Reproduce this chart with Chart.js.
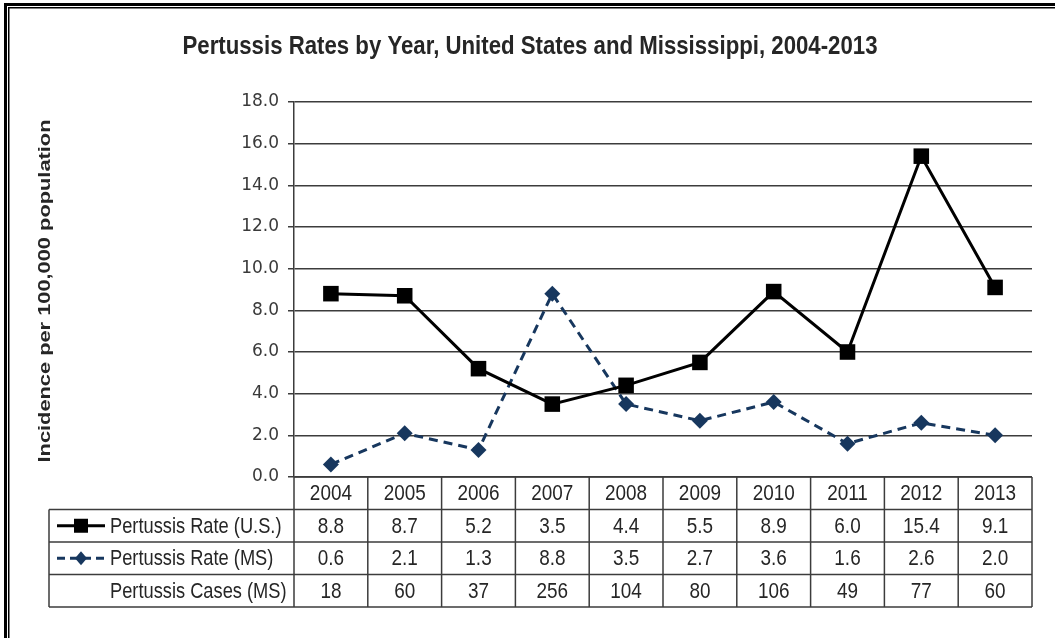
<!DOCTYPE html>
<html>
<head>
<meta charset="utf-8">
<script src="https://cdn.jsdelivr.net/npm/chart.js@4.4.0/dist/chart.umd.min.js"></script>
<style>
  body { margin: 0; background: #fff; }
  canvas { display: block; }
</style>
</head>
<body>
<canvas id="pertussisChart" width="1055" height="638"></canvas>
<script>
// ---------------- data ----------------
const years = ["2004", "2005", "2006", "2007", "2008", "2009", "2010", "2011", "2012", "2013"];
const usRate = [8.8, 8.7, 5.2, 3.5, 4.4, 5.5, 8.9, 6.0, 15.4, 9.1];
const msRate = [0.6, 2.1, 1.3, 8.8, 3.5, 2.7, 3.6, 1.6, 2.6, 2.0];
const msCases = [18, 60, 37, 256, 104, 80, 106, 49, 77, 60];
const rowLabels = ["Pertussis Rate (U.S.)", "Pertussis Rate (MS)", "Pertussis Cases (MS)"];
const yMin = 0;
const yMax = 18;
const yStep = 2;

const chartTitle = "Pertussis Rates by Year, United States and Mississippi, 2004-2013";
const yTitle = "Incidence per 100,000 population";

// ---------------- styles ----------------
const US_COLOR = "#000000";
const MS_COLOR = "#17375e";
const LINE_COLOR = "#3c3c3c";
const TEXT_COLOR = "#262626";

// text drawn with a horizontal squeeze, the source picture is narrow
function drawText(ctx, text, x, y, font, sx, align) {
  ctx.save();
  ctx.font = font;
  ctx.fillStyle = TEXT_COLOR;
  ctx.textAlign = align || "center";
  ctx.textBaseline = "middle";
  ctx.translate(x, y);
  ctx.scale(sx, 1);
  ctx.fillText(text, 0, 0);
  ctx.restore();
}

function drawSample(ctx, x1, x2, y, color, dash, style) {
  ctx.save();
  ctx.strokeStyle = color;
  ctx.fillStyle = color;
  ctx.lineWidth = 3;
  ctx.setLineDash(dash);
  ctx.beginPath();
  ctx.moveTo(x1, y);
  ctx.lineTo(x2, y);
  ctx.stroke();
  ctx.setLineDash([]);
  const cx = (x1 + x2) / 2;
  if (style === "rect") {
    ctx.fillRect(cx - 7, y - 7, 14, 14);
  } else {
    ctx.beginPath();
    ctx.moveTo(cx, y - 7);
    ctx.lineTo(cx + 6, y);
    ctx.lineTo(cx, y + 7);
    ctx.lineTo(cx - 6, y);
    ctx.closePath();
    ctx.fill();
  }
  ctx.restore();
}

const pageDecor = {
  id: "pageDecor",
  beforeDraw(chart) {
    const ctx = chart.ctx;
    const w = chart.width, h = chart.height;
    ctx.save();
    ctx.fillStyle = "#fff";
    ctx.fillRect(0, 0, w, h);
    // double frame, only top and left show in the crop
    ctx.fillStyle = "#000";
    ctx.fillRect(4, 3, w - 4, 3);
    ctx.fillRect(4, 3, 3, h - 3);
    ctx.fillRect(8, 7, w - 8, 1.5);
    ctx.fillRect(8, 7, 1.5, h - 7);

    // title
    ctx.font = 'bold 26px "Liberation Sans", Arial, sans-serif';
    let sx = 695 / ctx.measureText(chartTitle).width;
    ctx.restore();
    drawText(ctx, chartTitle, 530, 47, 'bold 26px "Liberation Sans", Arial, sans-serif', sx, "center");

    // y axis title
    ctx.save();
    ctx.font = 'bold 16px "Liberation Sans", Arial, sans-serif';
    sx = 343 / ctx.measureText(yTitle).width;
    ctx.translate(46, 291);
    ctx.rotate(-Math.PI / 2);
    drawText(ctx, yTitle, 0, 0, 'bold 16px "Liberation Sans", Arial, sans-serif', sx, "center");
    ctx.restore();
  },
  afterDraw(chart) {
    const ctx = chart.ctx;
    const xs = chart.scales.x;
    const area = chart.chartArea;
    const colW = xs.getPixelForValue(1) - xs.getPixelForValue(0);
    const tableLeft = 49;
    const rows = [area.bottom, area.bottom + 32.5, area.bottom + 65, area.bottom + 97.5, area.bottom + 130];

    ctx.save();
    ctx.strokeStyle = LINE_COLOR;
    ctx.lineWidth = 1.5;
    ctx.beginPath();
    ctx.moveTo(area.left, rows[0]);
    ctx.lineTo(area.right, rows[0]);
    for (let r = 1; r < rows.length; r++) {
      ctx.moveTo(tableLeft, rows[r]);
      ctx.lineTo(area.right, rows[r]);
    }
    ctx.moveTo(tableLeft, rows[1]);
    ctx.lineTo(tableLeft, rows[4]);
    for (let i = 0; i <= years.length; i++) {
      const x = area.left + colW * i;
      ctx.moveTo(x, rows[0]);
      ctx.lineTo(x, rows[4]);
    }
    ctx.stroke();
    ctx.restore();

    const cellFont = '22px "Liberation Sans", Arial, sans-serif';
    const rowData = [
      years,
      usRate.map(v => v.toFixed(1)),
      msRate.map(v => v.toFixed(1)),
      msCases.map(v => String(v)),
    ];
    rowData.forEach((vals, r) => {
      const cy = (rows[r] + rows[r + 1]) / 2 + 1;
      vals.forEach((txt, i) => {
        drawText(ctx, txt, xs.getPixelForValue(i), cy, cellFont, 0.86, "center");
      });
    });

    // row headers with legend samples
    rowLabels.forEach((label, r) => {
      const cy = (rows[r + 1] + rows[r + 2]) / 2 + 1;
      drawText(ctx, label, 110, cy, cellFont, 0.83, "left");
    });
    drawSample(ctx, 57, 105, (rows[1] + rows[2]) / 2, US_COLOR, [], "rect");
    drawSample(ctx, 57, 105, (rows[2] + rows[3]) / 2, MS_COLOR, [8, 5], "diamond");
  },
};

new Chart(document.getElementById("pertussisChart"), {
  type: "line",
  data: {
    labels: years,
    datasets: [
      {
        label: rowLabels[0],
        data: usRate,
        borderColor: US_COLOR,
        backgroundColor: US_COLOR,
        borderWidth: 3,
        pointStyle: "rect",
        pointRadius: 11,
        pointBorderWidth: 0,
        tension: 0,
      },
      {
        label: rowLabels[1],
        data: msRate,
        borderColor: MS_COLOR,
        backgroundColor: MS_COLOR,
        borderWidth: 3,
        borderDash: [9, 6],
        pointStyle: "rectRot",
        pointRadius: 8,
        pointBorderWidth: 0,
        tension: 0,
      },
    ],
  },
  options: {
    responsive: false,
    animation: false,
    layout: { padding: { top: 102, right: 23, bottom: 161, left: 0 } },
    plugins: {
      legend: { display: false },
      tooltip: { enabled: false },
    },
    scales: {
      x: { display: false, offset: true },
      y: {
        min: yMin,
        max: yMax,
        ticks: {
          stepSize: yStep,
          callback: v => v.toFixed(1),
          font: { family: "DejaVu Sans", size: 17 },
          color: "#3a3a3a",
          padding: 9,
        },
        grid: { color: LINE_COLOR, lineWidth: 1.5, tickLength: 6 },
        border: { color: LINE_COLOR, width: 1.5 },
        afterFit(scale) {
          scale.width = 294;
        },
      },
    },
  },
  plugins: [pageDecor],
});
</script>
</body>
</html>
